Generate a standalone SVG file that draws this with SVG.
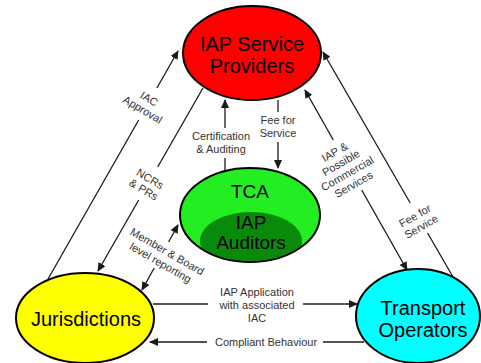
<svg xmlns="http://www.w3.org/2000/svg" width="481" height="363" viewBox="0 0 481 363">
<style>
.node{stroke:#000;stroke-width:2}
.nt{font-family:"Liberation Sans",Arial,sans-serif;font-size:20px;fill:#000;text-anchor:middle}
.nts{font-size:19px}
.ln{stroke:#1a1a1a;stroke-width:1.3;fill:none}
.arr{marker-end:url(#ah)}
.lb{font-family:"Liberation Sans",Arial,sans-serif;font-size:11px;fill:#333;text-anchor:middle}
</style>
<defs>
<marker id="ah" markerWidth="9" markerHeight="8" refX="8" refY="4" orient="auto-start-reverse" markerUnits="userSpaceOnUse">
<path d="M0,0 L9,4 L0,8 Z" fill="#1a1a1a"/>
</marker>
<clipPath id="tcaClip"><ellipse cx="250" cy="215" rx="70" ry="47"/></clipPath>
</defs>
<rect width="481" height="363" fill="#fff"/>

<g id="connectors">
<!-- IAC Approval -->
<line class="ln" x1="48" y1="279" x2="138.7" y2="120"/>
<line class="ln arr" x1="156.9" y1="88" x2="178" y2="51"/>
<text class="lb" transform="translate(146,104) rotate(31)"><tspan x="0" y="-2.2">IAC</tspan><tspan x="0" y="10.3">Approval</tspan></text>
<!-- NCRs & PRs -->
<line class="ln" x1="203" y1="88" x2="157.7" y2="167"/>
<line class="ln arr" x1="138.7" y1="200" x2="98" y2="271"/>
<text class="lb" transform="translate(147,184) rotate(31)"><tspan x="0" y="-2.2">NCRs</tspan><tspan x="0" y="10.3">&amp; PRs</tspan></text>
<!-- Member & Board -->
<line class="ln arr" x1="168.6" y1="242" x2="178" y2="225"/>
<line class="ln arr" x1="154.2" y1="268" x2="142" y2="290"/>
<text class="lb" transform="translate(164,257) rotate(30)"><tspan x="0" y="-2.5">Member &amp; Board</tspan><tspan x="0" y="10.5">level reporting</tspan></text>
<!-- Certification & Auditing -->
<line class="ln" x1="225" y1="170" x2="225" y2="158"/>
<line class="ln arr" x1="225" y1="128" x2="225" y2="100"/>
<text class="lb"><tspan x="221" y="140">Certification</tspan><tspan x="221" y="153">&amp; Auditing</tspan></text>
<!-- Fee for Service (center) -->
<line class="ln" x1="278" y1="100" x2="278" y2="112"/>
<line class="ln arr" x1="278" y1="142" x2="278" y2="168"/>
<text class="lb"><tspan x="278" y="124">Fee for</tspan><tspan x="278" y="137">Service</tspan></text>
<!-- IAP & Possible Commercial Services -->
<line class="ln arr" x1="333.3" y1="140" x2="305" y2="90"/>
<line class="ln arr" x1="361.7" y1="190" x2="407" y2="270"/>
<text class="lb" transform="translate(344,168) rotate(-30)"><tspan x="0" y="-14.7">IAP &amp;</tspan><tspan x="0" y="-2.2">Possible</tspan><tspan x="0" y="10.3">Commercial</tspan><tspan x="0" y="22.8">Services</tspan></text>
<!-- Fee for Service (right) -->
<line class="ln arr" x1="410.2" y1="203" x2="323" y2="52"/>
<line class="ln" x1="427.6" y1="233" x2="453" y2="277"/>
<text class="lb" transform="translate(418,221) rotate(-30)"><tspan x="0" y="-2.2">Fee for</tspan><tspan x="0" y="10.3">Service</tspan></text>
<!-- IAP Application -->
<line class="ln" x1="153" y1="304" x2="208" y2="304"/>
<line class="ln arr" x1="303" y1="304" x2="357" y2="304"/>
<text class="lb"><tspan x="257" y="296">IAP Application</tspan><tspan x="257" y="309">with associated</tspan><tspan x="257" y="322">IAC</tspan></text>
<!-- Compliant Behaviour -->
<line class="ln" x1="364" y1="342" x2="323" y2="342"/>
<line class="ln arr" x1="207" y1="342" x2="150" y2="342"/>
<text class="lb" x="266" y="346">Compliant  Behaviour</text>
</g>

<g id="iap-service-providers">
<ellipse class="node" cx="252" cy="53" rx="69" ry="47" fill="#ff0000"/>
<text class="nt"><tspan x="252" y="51">IAP Service</tspan><tspan x="252" y="73">Providers</tspan></text>
</g>

<g id="tca">
<ellipse cx="250" cy="215" rx="70" ry="47" fill="#22ee22"/>
<ellipse cx="251" cy="241" rx="51" ry="29" fill="#0a8a0a" clip-path="url(#tcaClip)"/>
<ellipse class="node" cx="250" cy="215" rx="70" ry="47" fill="none"/>
<text class="nt nts" x="250" y="198">TCA</text>
<text class="nt nts"><tspan x="251" y="229">IAP</tspan><tspan x="251" y="249">Auditors</tspan></text>
</g>

<g id="jurisdictions">
<ellipse class="node" cx="85" cy="318" rx="69" ry="45" fill="#ffff00"/>
<text class="nt" x="86" y="326">Jurisdictions</text>
</g>

<g id="transport-operators">
<ellipse class="node" cx="418" cy="316" rx="62" ry="47" fill="#00ffff"/>
<text class="nt"><tspan x="423" y="315">Transport</tspan><tspan x="423" y="337">Operators</tspan></text>
</g>
</svg>
